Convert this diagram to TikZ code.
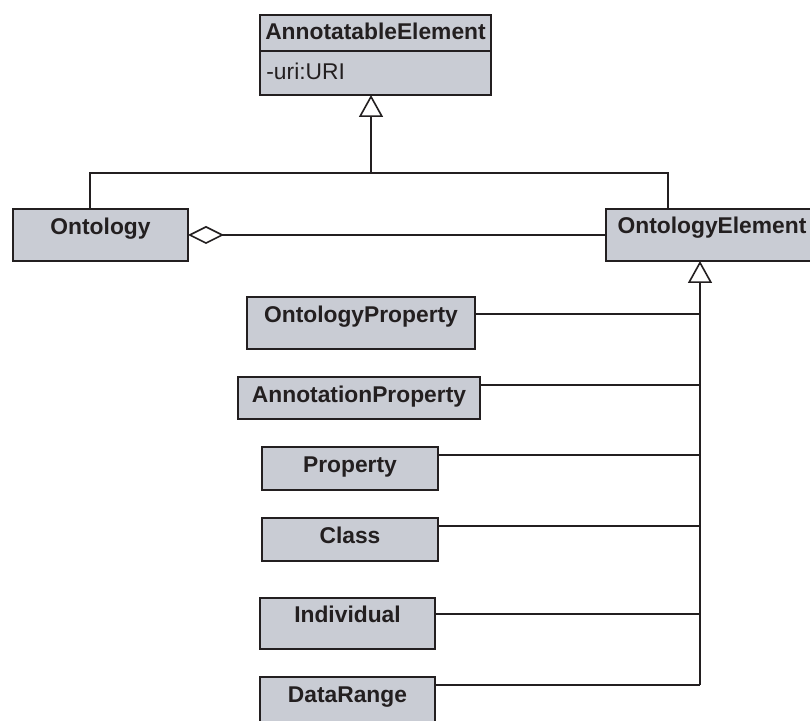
\documentclass[tikz,border=0pt]{standalone}
\usepackage{fontspec}
\setmainfont{Liberation Sans}
\usetikzlibrary{arrows.meta}
\definecolor{boxfill}{RGB}{201,204,212}
\definecolor{ink}{RGB}{35,31,32}
\tikzset{
  umlbox/.style={draw=ink, fill=boxfill, line width=1pt, rectangle, inner sep=0pt, outer sep=0pt},
  lbl/.style={anchor=base, inner sep=0pt, text=ink, font=\fontsize{11.4}{13}\selectfont\bfseries},
  attr/.style={anchor=base west, inner sep=0pt, text=ink, font=\fontsize{11.4}{13}\selectfont},
  conn/.style={draw=ink, line width=0.8pt},
  gen/.style={-{Triangle[open, length=11pt, width=12pt, line width=0.8pt]}},
  agg/.style={{Diamond[open, length=18pt, width=9pt, line width=0.8pt]}-},
}
\begin{document}
\begin{tikzpicture}[x=0.5pt, y=-0.5pt]
  \clip (0,0) rectangle (810,721);
  \fill[white] (0,0) rectangle (810,721);

  % class boxes
  \node[umlbox, minimum width=115.5pt, minimum height=40pt] (ae) at (375.5,55) {};
  \node[umlbox, minimum width=87.5pt, minimum height=26pt] (ont) at (100.5,235) {};
  \node[umlbox, minimum width=106pt, minimum height=26pt] (oe) at (712,235) {};
  \node[umlbox, minimum width=114pt, minimum height=26pt] (op) at (361,323) {};
  \node[umlbox, minimum width=121pt, minimum height=21pt] (ap) at (359,398) {};
  \node[umlbox, minimum width=88pt, minimum height=21.5pt] (prop) at (350,468.5) {};
  \node[umlbox, minimum width=88pt, minimum height=21.5pt] (cls) at (350,539.5) {};
  \node[umlbox, minimum width=87.5pt, minimum height=25.5pt] (ind) at (347.5,623.5) {};
  \node[umlbox, minimum width=87.5pt, minimum height=31.5pt] (dr) at (347.5,708.5) {};

  % attribute compartment of AnnotatableElement
  \draw[conn, line width=1pt] (ae.west |- 0,51) -- (ae.east |- 0,51);

  % labels
  \node[lbl] (aeT) at (375.5,40) {AnnotatableElement};
  \node[attr] (aeA) at (266,80) {-uri:URI};
  \node[lbl] (ontT) at (100.5,235) {Ontology};
  \node[lbl] (oeT) at (712,234) {OntologyElement};
  \node[lbl] (opT) at (361,323) {OntologyProperty};
  \node[lbl] (apT) at (359,403) {AnnotationProperty};
  \node[lbl] (propT) at (350,473) {Property};
  \node[lbl] (clsT) at (350,544) {Class};
  \node[lbl] (indT) at (347.5,623) {Individual};
  \node[lbl] (drT) at (347.5,703) {DataRange};

  % Ontology and OntologyElement specialise AnnotatableElement
  \coordinate (hub) at (371,173);
  \draw[conn] (90,0 |- ont.north) |- (hub) -| (668,0 |- oe.north);
  \draw[conn, gen] (hub) -- (hub |- ae.south);

  % Ontology aggregates OntologyElement
  \draw[conn, agg] (ont.east) -- (oe.west);

  % subclasses of OntologyElement
  \coordinate (spine) at (700,685);
  \coordinate (spinemid) at (700,526);
  \draw[conn] (spine) -- (spinemid);
  \draw[conn, line width=1.2pt, gen] (spinemid) -- (spine |- oe.south);
  \draw[conn] (op.east |- 0,314) -- (spine |- 0,314);
  \draw[conn] (ap.east |- 0,385) -- (spine |- 0,385);
  \draw[conn] (prop.east |- 0,455) -- (spine |- 0,455);
  \draw[conn] (cls.east |- 0,526) -- (spinemid);
  \draw[conn] (ind.east |- 0,614) -- (spine |- 0,614);
  \draw[conn] (dr.east |- 0,685) -- (spine);
\end{tikzpicture}
\end{document}
